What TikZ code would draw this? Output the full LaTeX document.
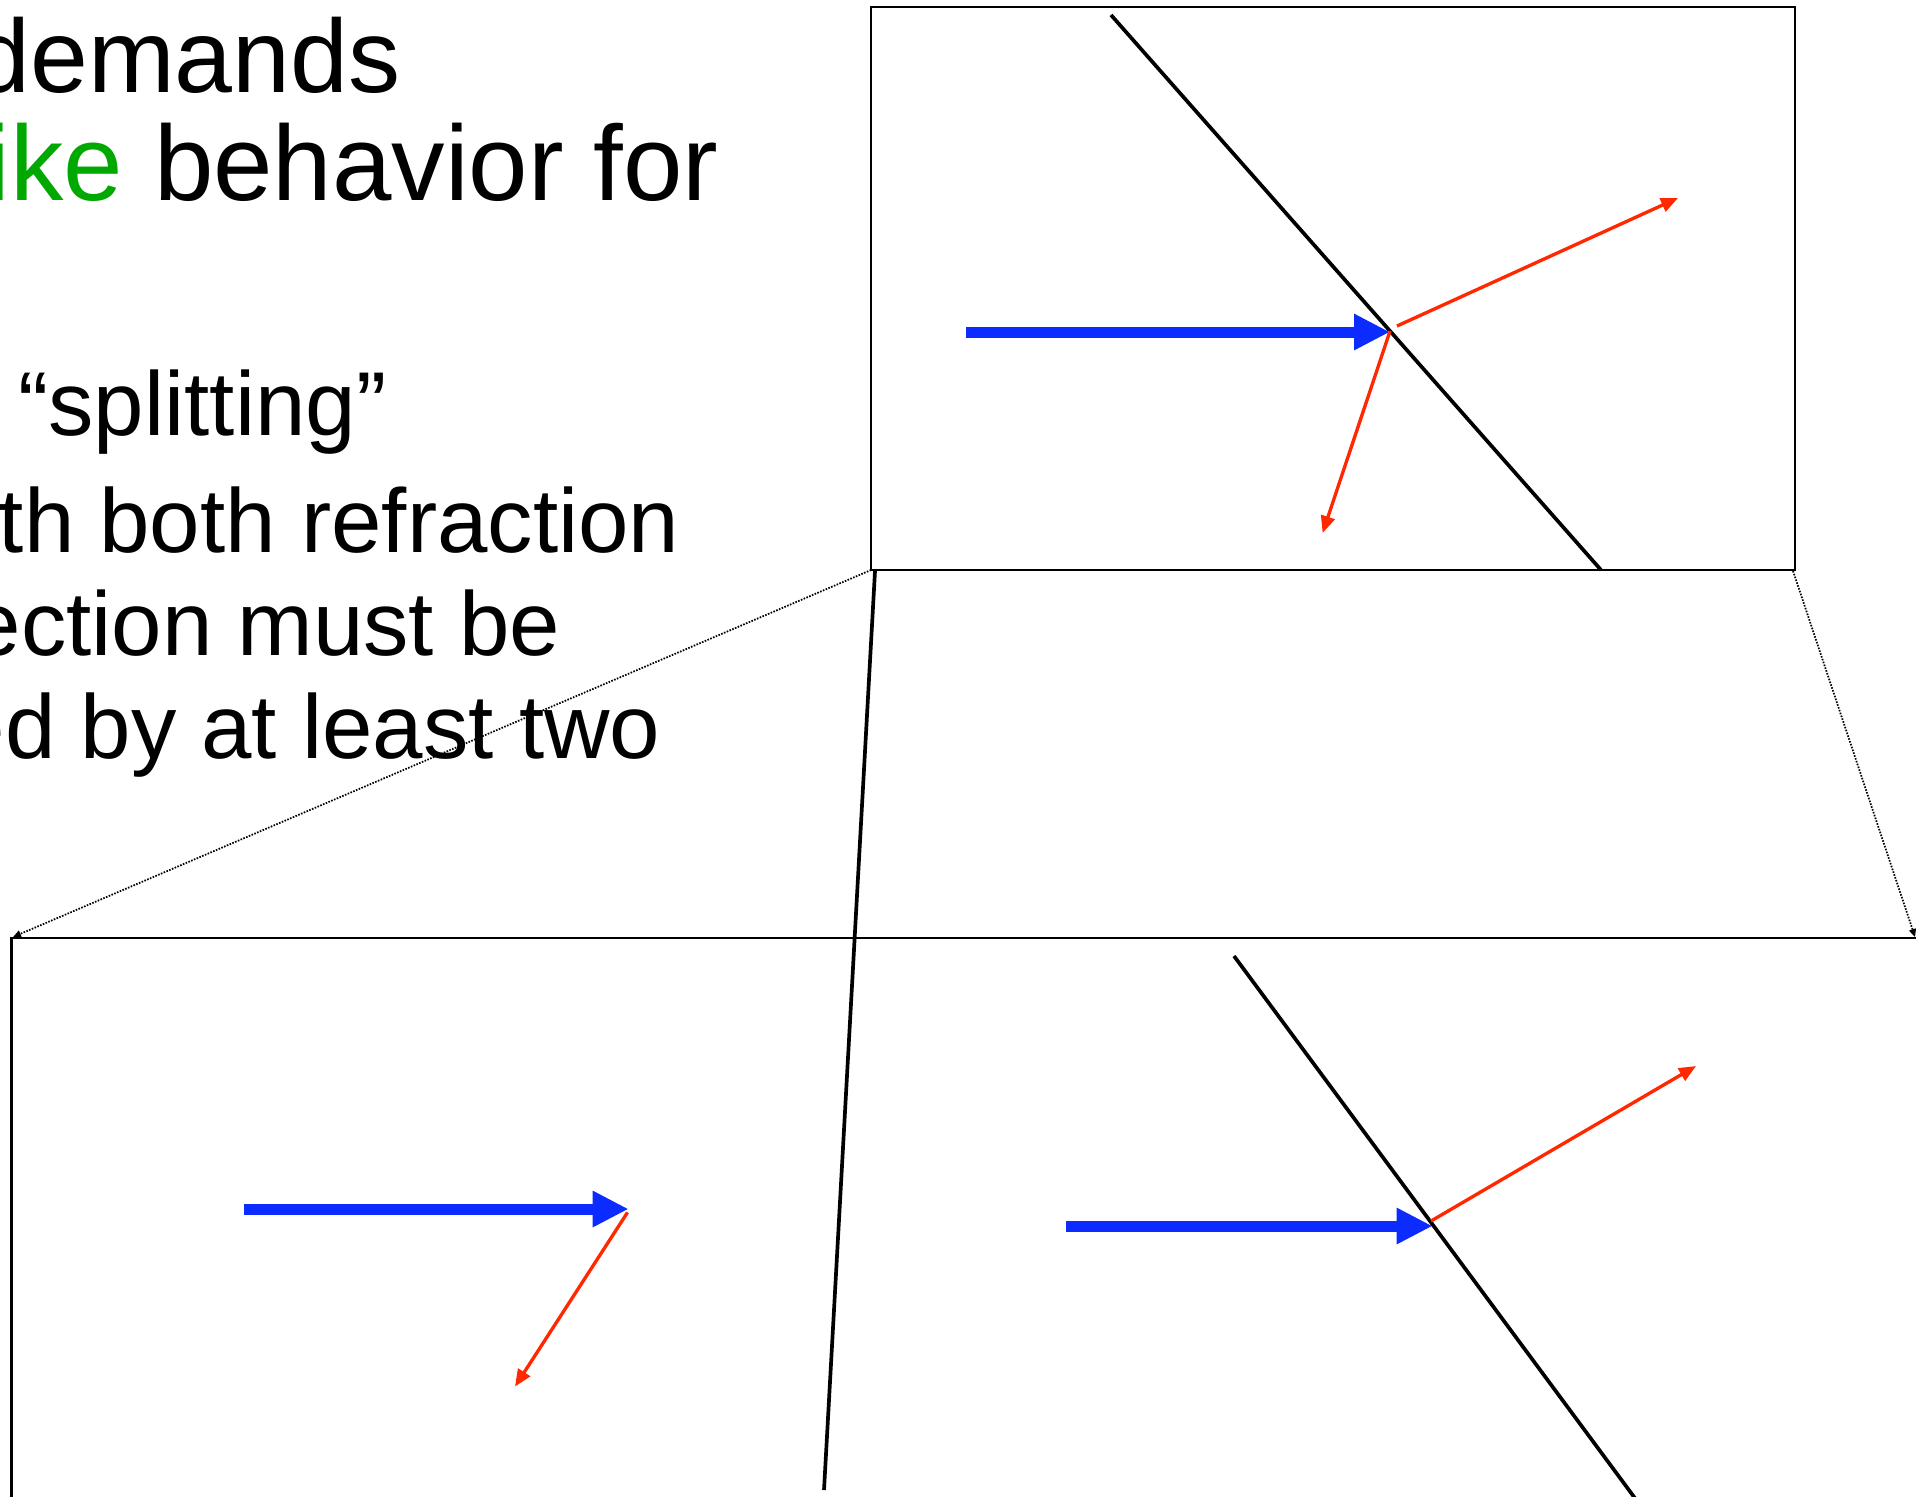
\documentclass[tikz,border=0pt]{standalone}
\usepackage{fontspec}
\setmainfont{Liberation Sans}
\usetikzlibrary{arrows.meta}
\definecolor{rayblue}{RGB}{12,44,255}
\definecolor{rayred}{RGB}{255,40,0}
\definecolor{txtgreen}{RGB}{0,168,0}
\tikzset{
  bigtxt/.style={font=\fontsize{30.4pt}{31pt}\selectfont, inner sep=0pt, anchor=base east},
  midtxt/.style={font=\fontsize{25.8pt}{26pt}\selectfont, inner sep=0pt, anchor=base east},
  boxline/.style={draw=black, line width=0.7pt},
  iface/.style={draw=black, line width=1.05pt},
  bluearrow/.style={draw=rayblue, fill=rayblue, line width=1.1mm, -{Triangle[length=3.6mm,width=3.4mm]}},
  redarrow/.style={draw=rayred, fill=rayred, line width=0.95pt, -{Triangle[length=1.7mm,width=1.4mm]}},
  dotline/.style={draw=black, line width=0.5pt, dash pattern=on 0.45pt off 0.4pt, -{Triangle[length=0.8mm,width=0.7mm]}}
}
\begin{document}
\begin{tikzpicture}[x=0.1mm,y=-0.1mm]
\useasboundingbox (0,0) rectangle (1916,1496);
\clip (0,0) rectangle (1916,1496);
\fill[white] (0,0) rectangle (1916,1496);

% text
\node[bigtxt, font=\fontsize{29.6pt}{30pt}\selectfont] (t1) at (401,92) {demands};
\node[bigtxt, text=txtgreen] (t2a) at (124,200) {ike};
\node[bigtxt] (t2b) at (719,200) {behavior for};
\node[midtxt] (t3) at (387,435) {“splitting”};
\node[midtxt] (t4) at (680,552) {th both refraction};
\node[midtxt] (t5) at (561,655) {ection must be};
\node[midtxt] (t6) at (661,758) {ed by at least two};

% coordinates
\coordinate (tbnw) at (871,7);
\coordinate (tbse) at (1795,570);
\coordinate (tbsw) at (871,570);
\coordinate (tbse2) at (1793,571);
\coordinate (ifaTop) at (1111,15);
\coordinate (ifaBot) at (1601,570);
\coordinate (blueAs) at (966,332);
\coordinate (blueAe) at (1390,332);
\coordinate (reflAs) at (1397,326);
\coordinate (reflAe) at (1678,198);
\coordinate (refrAs) at (1390,331);
\coordinate (refrAe) at (1322.6,533);

\coordinate (bbne) at (1925,938);
\coordinate (bbnw) at (11.5,938);
\coordinate (bbsw) at (11.5,1505);
\coordinate (longTop) at (875,571);
\coordinate (longBot) at (824,1490);
\coordinate (dotLend) at (13,937);
\coordinate (dotRend) at (1915,937);

\coordinate (blueBs) at (244,1209);
\coordinate (blueBe) at (628.6,1209);
\coordinate (redBs) at (627.5,1212.4);
\coordinate (redBe) at (515,1386.5);

\coordinate (ifcTop) at (1234,956);
\coordinate (ifcBot) at (1640,1505);
\coordinate (blueCs) at (1066,1226);
\coordinate (blueCe) at (1432.6,1226);
\coordinate (redCs) at (1431,1221);
\coordinate (redCe) at (1696,1066);

% top box
\draw[boxline] (tbnw) rectangle (tbse);
\draw[iface] (ifaTop) -- (ifaBot);
\draw[bluearrow] (blueAs) -- (blueAe);
\draw[redarrow] (reflAs) -- (reflAe);
\draw[redarrow] (refrAs) -- (refrAe);

% bottom box frame
\draw[boxline] (bbne) -- (bbnw) -- (bbsw);

% connectors
\draw[dotline] (tbsw) -- (dotLend);
\draw[dotline] (tbse2) -- (dotRend);
\draw[iface] (longTop) -- (longBot);

% bottom left
\draw[bluearrow] (blueBs) -- (blueBe);
\draw[redarrow] (redBs) -- (redBe);

% bottom right
\draw[iface] (ifcTop) -- (ifcBot);
\draw[bluearrow] (blueCs) -- (blueCe);
\draw[redarrow] (redCs) -- (redCe);
\end{tikzpicture}
\end{document}
